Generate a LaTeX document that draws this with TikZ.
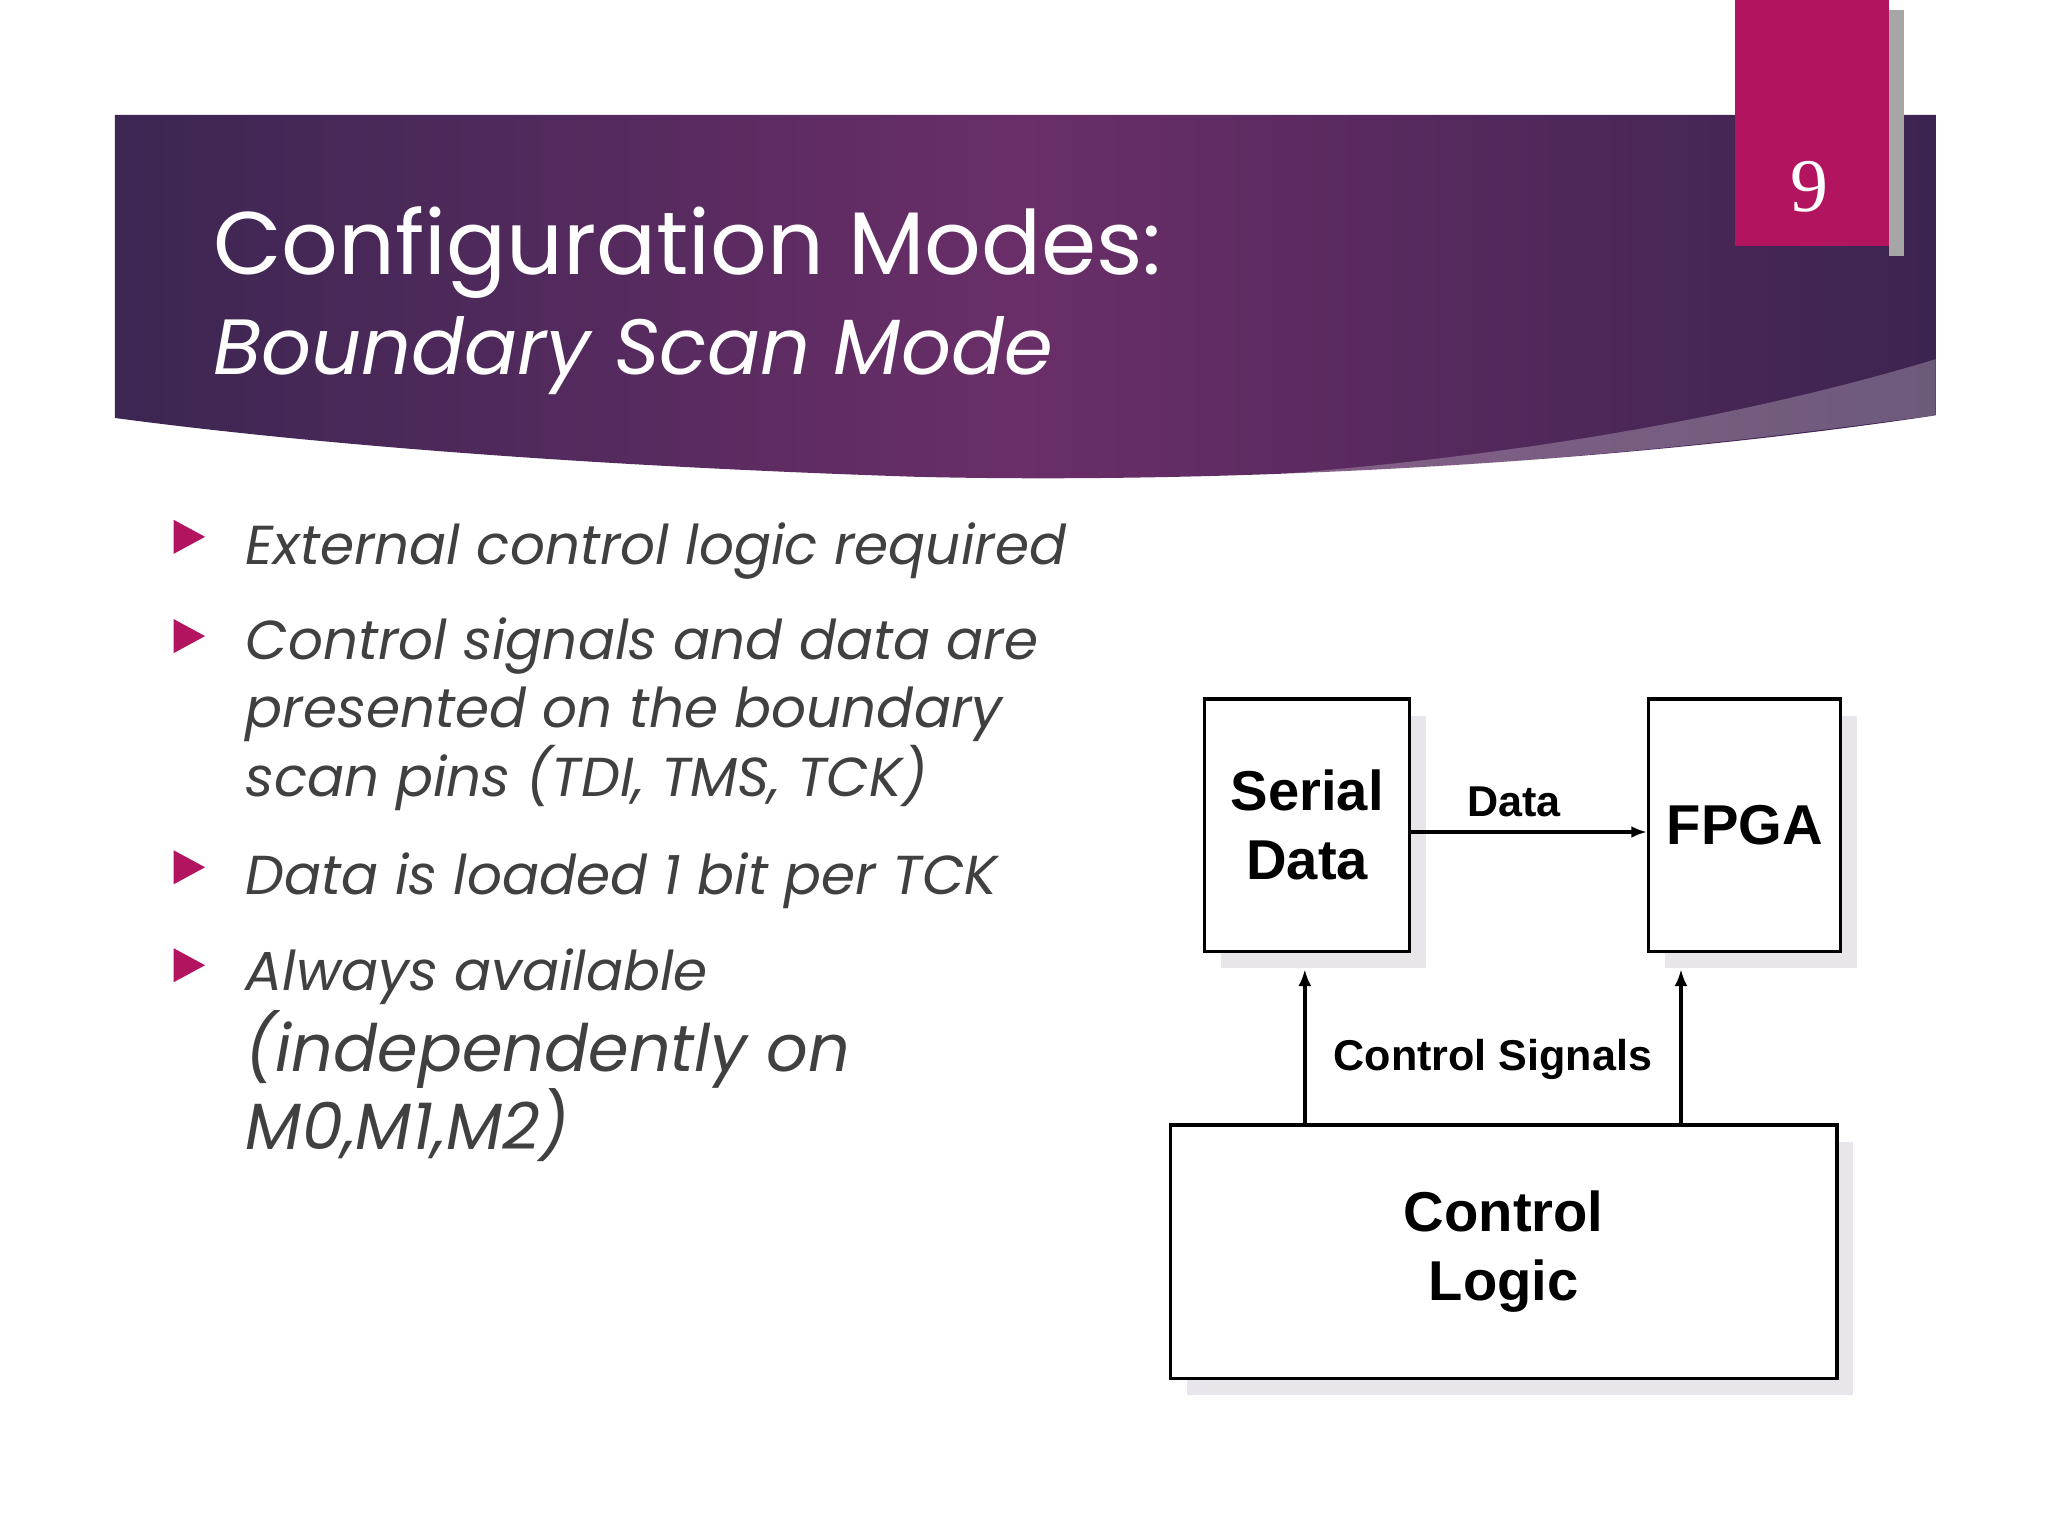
\documentclass[tikz,border=0pt]{standalone}
\usepackage{fontspec}
\setmainfont{Poppins}
\newfontfamily\arialb{Liberation Sans}
\newfontfamily\numf{Liberation Serif}
\usetikzlibrary{arrows.meta}
\definecolor{magent}{HTML}{B3145F}
\definecolor{txtgray}{HTML}{404040}
\definecolor{shad}{HTML}{E8E6EA}
\begin{document}
\begin{tikzpicture}[x=1pt,y=-1pt,
  box/.style={draw=black,line width=2.6pt,fill=white},
  shadowbox/.style={fill=shad},
  lbl/.style={font=\arialb\bfseries\fontsize{43}{53}\selectfont,align=center},
  slbl/.style={font=\arialb\bfseries\fontsize{33}{38}\selectfont},
  bul/.style={fill=magent},
  btxt/.style={anchor=base west,text=txtgray,font=\itshape\fontsize{42}{52}\selectfont,inner sep=0},
  arr/.style={line width=3.2pt,-{Latex[length=13pt,width=10pt]}}]
\useasboundingbox (0,0) rectangle (1568,1176);
\fill[white] (0,0) rectangle (1568,1176);
% header band
\shade[left color={rgb,255:red,60;green,38;blue,82}, right color={rgb,255:red,60;green,36;blue,80}, middle color={rgb,255:red,106;green,46;blue,104}]
  (88,88) -- (1482,88) -- (1482,318) .. controls (1200,360) and (900,370) .. (700,365) .. controls (400,355) and (200,335) .. (88,320) -- cycle;
\fill[white,opacity=0.25] (1482,275) .. controls (1300,330) and (1100,355) .. (950,365) .. controls (1200,355) and (1350,335) .. (1482,318) -- cycle;
% page number
\fill[gray!70] (1446,8) rectangle (1458,196);
\fill[magent] (1328,0) rectangle (1446,188);
\node[text=white,font=\numf\fontsize{58}{60}\selectfont] (num) at (1385,143) {9};
% title
\node[anchor=base west,text=white,font=\fontsize{68}{72}\selectfont,inner sep=0] (t1) at (163,210) {Configuration Modes:};
\node[anchor=base west,text=white,font=\itshape\fontsize{60}{64}\selectfont,inner sep=0] (t2) at (163,287) {Boundary Scan Mode};
% bullets
\foreach \y in {411,487,664,739}
  \fill[bul] (133,\y-13) -- (157,\y) -- (133,\y+13) -- cycle;
\node[btxt] (l1) at (188,432) {External control logic required};
\node[btxt] (l2) at (188,505) {Control signals and data are};
\node[btxt] (l3) at (188,557) {presented on the boundary};
\node[btxt] (l4) at (188,610) {scan pins (TDI, TMS, TCK)};
\node[btxt] (l5) at (188,685) {Data is loaded 1 bit per TCK};
\node[btxt] (l6) at (188,758) {Always available};
\node[btxt,font=\itshape\fontsize{50}{56}\selectfont] (l7) at (188,820) {(independently on};
\node[btxt,font=\itshape\fontsize{50}{56}\selectfont] (l8) at (188,880) {M0,M1,M2)};
% diagram shadows
\fill[shadowbox] (935,548) rectangle (1092,741);
\fill[shadowbox] (1275,548) rectangle (1422,741);
\fill[shadowbox] (909,874) rectangle (1419,1068);
% boxes
\node[box,minimum width=157pt,minimum height=193pt,anchor=north west,lbl] (sd) at (921,534) {Serial\\Data};
\node[box,minimum width=147pt,minimum height=193pt,anchor=north west,lbl] (fp) at (1261,534) {FPGA};
\node[box,minimum width=510pt,minimum height=194pt,anchor=north west,lbl] (cl) at (895,860) {Control\\Logic};
% connectors
\draw[line width=2.4pt,-{Latex[length=12pt,width=9pt]}] (sd.east |- 0,637) -- (fp.west |- 0,637);
\node[slbl] (dl) at (1159,614) {Data};
\coordinate (a1) at (999,742);
\coordinate (a2) at (1287,742);
\draw[arr] (cl.north -| a1) -- (a1);
\draw[arr] (cl.north -| a2) -- (a2);
\node[slbl] (cs) at (1143,811) {Control Signals};
\end{tikzpicture}
\end{document}
